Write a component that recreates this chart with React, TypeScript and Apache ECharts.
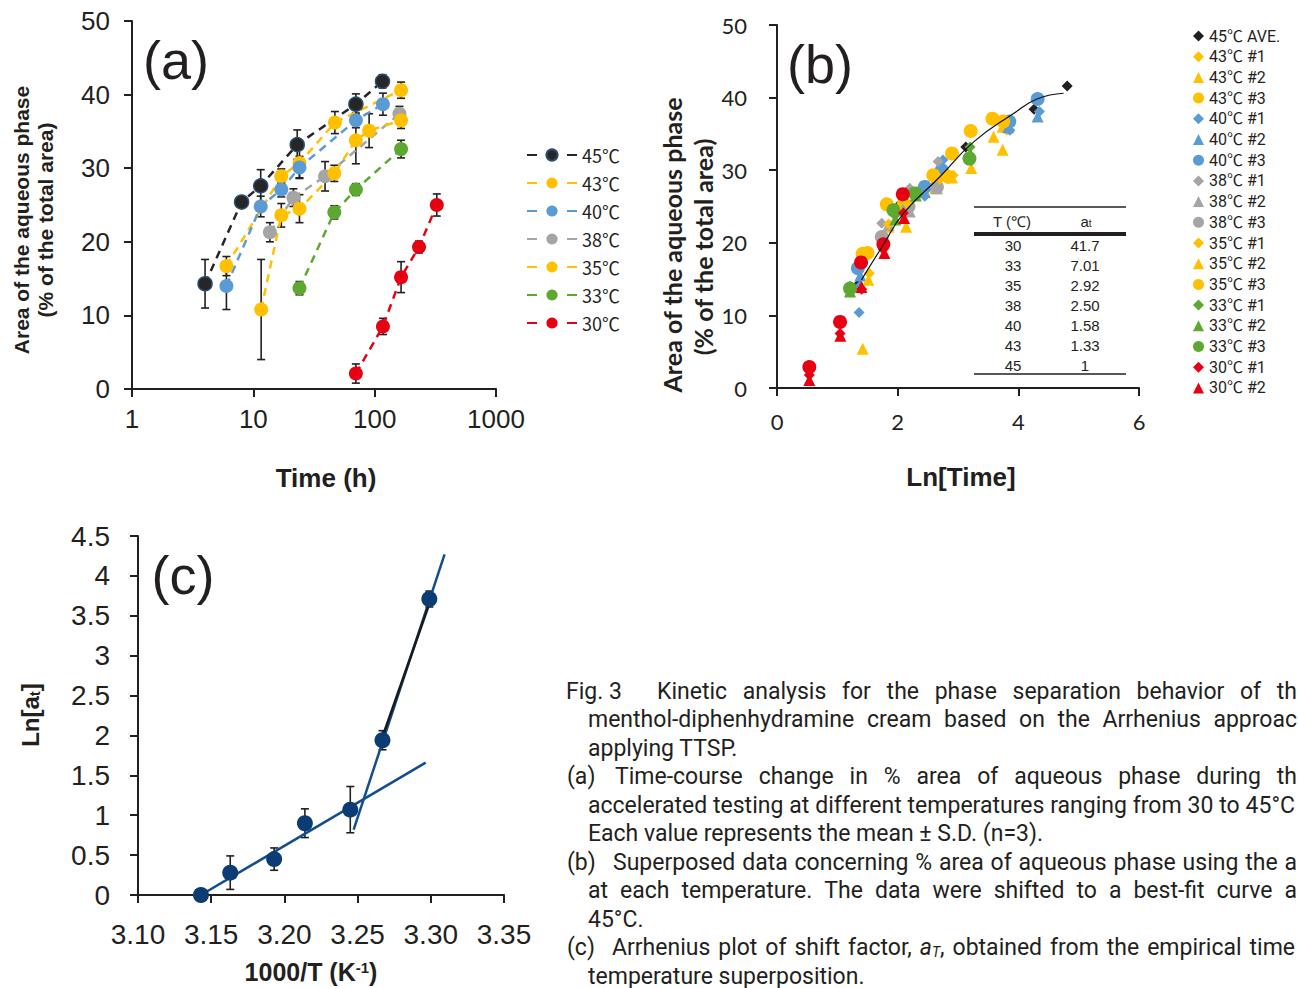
import React, { useEffect, useRef } from 'react';
import * as echarts from 'echarts';

const INK = '#231F20';

// ---------- Panel (a): time course (time in h, % area, S.D.) ----------
const namesA = ['45℃', '43℃', '40℃', '38℃', '35℃', '33℃', '30℃'];
const colorsA = ['#262626', '#FFC000', '#5B9BD5', '#A5A5A5', '#FFC000', '#5DA831', '#E60012'];
const timeA45 = [4, 8, 11.5, 23, 70, 116];
const areaA45 = [14.3, 25.4, 27.6, 33.2, 38.7, 41.8];
const sdA45 = [3.3, 0.5, 2.2, 2.0, 1.4, 0.9];
const timeA43 = [6, 17, 24, 47, 165];
const areaA43 = [16.7, 28.9, 30.7, 36.2, 40.6];
const sdA43 = [1.3, 1.0, 2.0, 1.5, 1.1];
const timeA40 = [6, 11.5, 17, 24, 70, 117];
const areaA40 = [14.0, 24.8, 27.1, 30.1, 36.5, 38.7];
const sdA40 = [3.2, 1.4, 1.0, 1.5, 1.0, 1.5];
const timeA38 = [13.7, 21.4, 39, 160];
const areaA38 = [21.3, 26.0, 28.9, 37.4];
const sdA38 = [1.3, 1.2, 2.0, 1.0];
const timeA35 = [11.6, 17, 24, 46.5, 70, 90, 165];
const areaA35 = [10.8, 23.6, 24.5, 29.3, 33.8, 35.1, 36.5];
const sdA35 = [6.8, 1.6, 1.9, 1.1, 3.2, 2.3, 1.1];
const timeA33 = [24, 46.5, 70, 165];
const areaA33 = [13.7, 24.0, 27.1, 32.6];
const sdA33 = [0.9, 0.9, 0.8, 1.2];
const timeA30 = [70, 117, 165, 232, 325];
const areaA30 = [2.1, 8.5, 15.2, 19.3, 25.0];
const sdA30 = [1.3, 1.1, 2.1, 0.8, 1.5];
const timesA = [timeA45, timeA43, timeA40, timeA38, timeA35, timeA33, timeA30];
const areasA = [areaA45, areaA43, areaA40, areaA38, areaA35, areaA33, areaA30];
const sdsA = [sdA45, sdA43, sdA40, sdA38, sdA35, sdA33, sdA30];

// ---------- Panel (b): superposed data (Ln[time], % area) ----------
const b45avgX = [1.35, 2.05, 2.43, 3.13, 4.26, 4.81];
const b45avgY = [14.3, 25.4, 27.6, 33.2, 38.4, 41.6];
const b43s1X = [1.53, 2.65, 2.92, 3.81];
const b43s1Y = [15.8, 28.5, 29.3, 35.5];
const b43s2X = [1.846, 2.62, 3.22, 3.59, 3.74];
const b43s2Y = [22.2, 27.5, 30.3, 34.6, 36.0];
const b43s3X = [1.5, 2.1, 2.9, 3.21, 3.57];
const b43s3Y = [18.6, 25.3, 32.3, 35.4, 37.1];
const b40s1X = [1.36, 1.37, 2.45, 2.75, 3.86, 4.35];
const b40s1Y = [10.4, 14.0, 26.4, 31.4, 35.5, 38.1];
const b40s2X = [1.38, 2.45, 3.83, 4.32];
const b40s2Y = [15.5, 27.0, 35.9, 37.4];
const b40s3X = [1.34, 2.45, 2.73, 3.85, 4.32];
const b40s3Y = [16.5, 27.7, 30.0, 36.7, 39.8];
const b38s1X = [1.736, 2.2, 2.67];
const b38s1Y = [22.7, 27.5, 31.2];
const b38s2X = [1.85, 2.2, 2.65];
const b38s2Y = [22.5, 24.3, 27.5];
const b38s3X = [1.736, 2.18, 2.65];
const b38s3Y = [20.8, 25.0, 27.7];
const b35s1X = [1.85, 2.15, 2.7];
const b35s1Y = [22.6, 25.5, 28.8];
const b35s2X = [1.42, 1.514, 2.14, 2.9, 3.74];
const b35s2Y = [5.4, 14.9, 22.2, 29.0, 32.8];
const b35s3X = [1.42, 1.82, 2.59, 2.84, 3.75];
const b35s3Y = [18.5, 25.3, 29.3, 29.1, 36.7];
const b33s1X = [1.21, 1.957, 2.317, 3.2];
const b33s1Y = [14.0, 23.8, 27.0, 33.2];
const b33s2X = [1.21, 1.96, 2.3, 3.2];
const b33s2Y = [13.3, 23.2, 26.5, 32.3];
const b33s3X = [1.21, 1.93, 2.29, 3.19];
const b33s3Y = [13.7, 24.5, 26.8, 31.6];
const b30s1X = [0.536, 1.045, 1.405, 1.76, 2.095];
const b30s1Y = [1.8, 7.5, 13.6, 19.1, 24.1];
const b30s2X = [0.536, 1.05, 1.4, 1.78, 2.106];
const b30s2Y = [1.1, 7.2, 13.9, 18.6, 23.4];
const b30s3X = [0.536, 1.045, 1.393, 1.763, 2.085];
const b30s3Y = [2.9, 9.1, 17.3, 19.8, 26.7];
const fitBX = [1.4, 1.76, 2.1, 2.7, 3.26, 3.92, 4.31, 4.75];
const fitBY = [14.9, 19.7, 24.1, 29.1, 33.9, 37.8, 39.8, 40.6];

const seriesB = [
  { name: '45℃ AVE.', color: '#231F20', symbol: 'diamond', x: b45avgX, y: b45avgY },
  { name: '43℃ #1', color: '#FFC000', symbol: 'diamond', x: b43s1X, y: b43s1Y },
  { name: '43℃ #2', color: '#FFC000', symbol: 'triangle', x: b43s2X, y: b43s2Y },
  { name: '43℃ #3', color: '#FFC000', symbol: 'circle', x: b43s3X, y: b43s3Y },
  { name: '40℃ #1', color: '#5B9BD5', symbol: 'diamond', x: b40s1X, y: b40s1Y },
  { name: '40℃ #2', color: '#5B9BD5', symbol: 'triangle', x: b40s2X, y: b40s2Y },
  { name: '40℃ #3', color: '#5B9BD5', symbol: 'circle', x: b40s3X, y: b40s3Y },
  { name: '38℃ #1', color: '#A5A5A5', symbol: 'diamond', x: b38s1X, y: b38s1Y },
  { name: '38℃ #2', color: '#A5A5A5', symbol: 'triangle', x: b38s2X, y: b38s2Y },
  { name: '38℃ #3', color: '#A5A5A5', symbol: 'circle', x: b38s3X, y: b38s3Y },
  { name: '35℃ #1', color: '#FFC000', symbol: 'diamond', x: b35s1X, y: b35s1Y },
  { name: '35℃ #2', color: '#FFC000', symbol: 'triangle', x: b35s2X, y: b35s2Y },
  { name: '35℃ #3', color: '#FFC000', symbol: 'circle', x: b35s3X, y: b35s3Y },
  { name: '33℃ #1', color: '#5DA831', symbol: 'diamond', x: b33s1X, y: b33s1Y },
  { name: '33℃ #2', color: '#5DA831', symbol: 'triangle', x: b33s2X, y: b33s2Y },
  { name: '33℃ #3', color: '#5DA831', symbol: 'circle', x: b33s3X, y: b33s3Y },
  { name: '30℃ #1', color: '#E60012', symbol: 'diamond', x: b30s1X, y: b30s1Y },
  { name: '30℃ #2', color: '#E60012', symbol: 'triangle', x: b30s2X, y: b30s2Y },
  { name: '30℃ #3', color: '#E60012', symbol: 'circle', x: b30s3X, y: b30s3Y },
];
const legendB = seriesB.slice(0, 18).map((s) => s.name);

// Shift-factor table in (b)
const tableT = ['30', '33', '35', '38', '40', '43', '45'];
const tableAt = ['41.7', '7.01', '2.92', '2.50', '1.58', '1.33', '1'];

// ---------- Panel (c): Arrhenius plot ----------
const invTC = [3.143, 3.163, 3.193, 3.214, 3.245, 3.267, 3.299];
const lnAtC = [0, 0.28, 0.45, 0.9, 1.07, 1.94, 3.71];
const sdC = [0, 0.21, 0.14, 0.18, 0.29, 0.12, 0.1];
const fitLowX = [3.143, 3.2965];
const fitLowY = [0.0, 1.66];
const fitHighX = [3.2473, 3.3094];
const fitHighY = [0.82, 4.27];
const fitHighBlackX = [3.2662, 3.3003];
const fitHighBlackY = [1.94, 3.72];

// ---------- Caption: [prefix, text, start x, justified right edge (0 = none)] ----------
const captionLines: [string, string, number, number][] = [
  ['Fig. 3', 'Kinetic analysis for the phase separation behavior of th', 657, 1297],
  ['', 'menthol-diphenhydramine cream based on the Arrhenius approac', 588, 1297],
  ['', 'applying TTSP.', 588, 0],
  ['(a)', 'Time-course change in % area of aqueous phase during th', 615, 1297],
  ['', 'accelerated testing at different temperatures ranging from 30 to 45°C', 588, 1295],
  ['', 'Each value represents the mean ± S.D. (n=3).', 588, 0],
  ['(b)', 'Superposed data concerning % area of aqueous phase using the a', 613, 1297],
  ['', 'at each temperature. The data were shifted to a best-fit curve a', 588, 1297],
  ['', '45°C.', 588, 0],
  ['(c)', 'Arrhenius plot of shift factor, {it|a}{itsub|T}, obtained from the empirical time', 612, 1295],
  ['', 'temperature superposition.', 588, 0],
];
const CAP_SIZE = 23;
const CAP_SUB = 14;

const ARIAL = 'Liberation Sans, Arial, sans-serif';
const CJK = 'Noto Sans CJK JP, sans-serif';
const LATO = 'Lato, sans-serif';
const ROBOTO = 'Roboto, Noto Sans CJK JP, sans-serif';

let measureCtx: CanvasRenderingContext2D | null = null;
function measure(s: string, size: number, italic: boolean) {
  if (!measureCtx) measureCtx = document.createElement('canvas').getContext('2d');
  if (!measureCtx) return s.length * size * 0.5;
  measureCtx.font = `${italic ? 'italic ' : ''}${size}px Roboto`;
  return measureCtx.measureText(s).width;
}
function richWidth(word: string) {
  let w = 0;
  const re = /\{(\w+)\|([^}]*)\}|([^{]+)/g;
  let m: RegExpExecArray | null;
  while ((m = re.exec(word))) {
    if (m[1]) w += measure(m[2], m[1] === 'itsub' ? CAP_SUB : CAP_SIZE, true);
    else w += measure(m[3], CAP_SIZE, false);
  }
  return w;
}

function errorBars(data: number[][], xi: number, yi: number, cap: number) {
  return {
    type: 'custom',
    xAxisIndex: xi,
    yAxisIndex: yi,
    z: 1,
    silent: true,
    data,
    encode: { x: 0, y: 1 },
    renderItem: (_p: any, api: any) => {
      const x = api.value(0);
      const y = api.value(1);
      const e = api.value(2);
      if (!e) return { type: 'group', children: [] };
      const a = api.coord([x, y + e]);
      const b = api.coord([x, y - e]);
      const st = { stroke: INK, lineWidth: 1.6 };
      return {
        type: 'group',
        children: [
          { type: 'line', shape: { x1: a[0], y1: a[1], x2: b[0], y2: b[1] }, style: st },
          { type: 'line', shape: { x1: a[0] - cap, y1: a[1], x2: a[0] + cap, y2: a[1] }, style: st },
          { type: 'line', shape: { x1: b[0] - cap, y1: b[1], x2: b[0] + cap, y2: b[1] }, style: st },
        ],
      };
    },
  };
}

function txt(x: number, y: number, text: string, fontSize: number, opts: any = {}) {
  const { rotation, ...style } = opts;
  return {
    type: 'text',
    x,
    y,
    rotation: rotation || 0,
    silent: true,
    z: 10,
    style: {
      text,
      fontSize,
      fill: INK,
      fontFamily: ARIAL,
      align: 'center',
      verticalAlign: 'middle',
      ...style,
    },
  };
}

function hline(x1: number, x2: number, y: number, w: number) {
  return { type: 'line', silent: true, z: 10, shape: { x1, y1: y, x2, y2: y }, style: { stroke: INK, lineWidth: w } };
}

function axisCommon(fontSize: number, fontFamily: string, margin: number) {
  return {
    axisLine: { show: true, onZero: false, lineStyle: { color: INK, width: 2 } },
    axisTick: { show: true, length: 8, lineStyle: { color: INK, width: 2 } },
    axisLabel: { color: INK, fontSize, fontFamily, margin },
    splitLine: { show: false },
    minorTick: { show: false },
    minorSplitLine: { show: false },
  };
}

export default function App() {
  const ref = useRef<HTMLDivElement>(null);

  useEffect(() => {
    document.body.style.margin = '0';
    const chart = echarts.init(ref.current as HTMLDivElement, undefined, { renderer: 'svg' });

    const series: any[] = [];

    // (a) lines + points
    namesA.forEach((name, i) => {
      series.push({
        type: 'line',
        name,
        xAxisIndex: 0,
        yAxisIndex: 0,
        data: timesA[i].map((t, j) => [t, areasA[i][j]]),
        symbol: 'circle',
        symbolSize: 14,
        showSymbol: true,
        z: 3,
        lineStyle: { color: colorsA[i], width: 2.5, type: [8, 6] },
        itemStyle: {
          color: colorsA[i],
          opacity: 1,
          borderColor: i === 0 ? '#2E4B6E' : colorsA[i],
          borderWidth: i === 0 ? 1.5 : 0,
        },
      });
    });
    const errA: number[][] = [];
    timesA.forEach((ts, i) => ts.forEach((t, j) => errA.push([t, areasA[i][j], sdsA[i][j]])));
    series.push(errorBars(errA, 0, 0, 4));

    // (b) scatter
    seriesB.forEach((s) => {
      series.push({
        type: 'scatter',
        name: s.name,
        xAxisIndex: 1,
        yAxisIndex: 1,
        data: s.x.map((v, j) => [v, s.y[j]]),
        symbol: s.symbol,
        symbolSize: s.symbol === 'circle' ? 14 : s.symbol === 'triangle' ? 12 : 11,
        itemStyle: { color: s.color, opacity: 1 },
        z: 3,
      });
    });
    series.push({
      type: 'line',
      name: 'fit',
      xAxisIndex: 1,
      yAxisIndex: 1,
      data: fitBX.map((v, j) => [v, fitBY[j]]),
      smooth: true,
      symbol: 'none',
      lineStyle: { color: '#111111', width: 1.2 },
      z: 5,
      silent: true,
    });

    // (c)
    const lineC = (name: string, xs: number[], ys: number[], color: string) => ({
      type: 'line',
      name,
      xAxisIndex: 2,
      yAxisIndex: 2,
      data: xs.map((v, j) => [v, ys[j]]),
      symbol: 'none',
      lineStyle: { color, width: 2.5 },
      z: 2,
      silent: true,
    });
    series.push(lineC('lowFit', fitLowX, fitLowY, '#124E8C'));
    series.push(lineC('highFit', fitHighX, fitHighY, '#124E8C'));
    series.push(lineC('highFitBlack', fitHighBlackX, fitHighBlackY, '#1A1A1A'));
    series.push(errorBars(invTC.map((v, j) => [v, lnAtC[j], sdC[j]]), 2, 2, 4));
    series.push({
      type: 'scatter',
      name: 'lnAt',
      xAxisIndex: 2,
      yAxisIndex: 2,
      data: invTC.map((v, j) => [v, lnAtC[j]]),
      symbol: 'circle',
      symbolSize: 16,
      itemStyle: { color: '#0B3C73', opacity: 1 },
      z: 4,
    });

    const graphic: any[] = [];
    // panel labels
    graphic.push(txt(176, 60, '(a)', 54));
    graphic.push(txt(820, 64, '(b)', 54));
    graphic.push(txt(183, 575, '(c)', 54));
    // axis titles (a)
    graphic.push(txt(326, 478, 'Time (h)', 26, { fontWeight: 'bold' }));
    graphic.push(txt(21, 220, 'Area of the aqueous phase', 21, { fontWeight: 'bold', rotation: Math.PI / 2 }));
    graphic.push(txt(45, 220, '(% of the total area)', 21, { fontWeight: 'bold', rotation: Math.PI / 2 }));
    // axis titles (b)
    graphic.push(txt(961, 477, 'Ln[Time]', 26, { fontWeight: 'bold' }));
    graphic.push(txt(672, 245, 'Area of the aqueous phase', 25, { fontWeight: 'bold', fontFamily: LATO, rotation: Math.PI / 2 }));
    graphic.push(txt(703, 247, '(% of the total area)', 25, { fontWeight: 'bold', fontFamily: LATO, rotation: Math.PI / 2 }));
    // axis titles (c)
    graphic.push(
      txt(311, 972, '1000/T (K{sup|-1})', 25, {
        fontWeight: 'bold',
        rich: { sup: { fontSize: 15, fontWeight: 'bold', fontFamily: ARIAL, verticalAlign: 'top', lineHeight: 12 } },
      })
    );
    graphic.push(
      txt(30, 715, 'Ln[a{sub|t}]', 24, {
        fontWeight: 'bold',
        rotation: Math.PI / 2,
        rich: { sub: { fontSize: 15, fontWeight: 'bold', fontFamily: ARIAL, verticalAlign: 'bottom', lineHeight: 12 } },
      })
    );
    // table in (b)
    graphic.push(hline(974, 1126, 207, 1.5));
    graphic.push(hline(974, 1126, 234, 4));
    graphic.push(hline(974, 1126, 374, 1.5));
    graphic.push(txt(1012, 221, 'T (℃)', 15));
    graphic.push(
      txt(1086, 221, 'a{sub|t}', 15, {
        rich: { sub: { fontSize: 10, fontFamily: ARIAL, verticalAlign: 'bottom', lineHeight: 8 } },
      })
    );
    tableT.forEach((t, i) => {
      graphic.push(txt(1013, 245 + i * 20, t, 15));
      graphic.push(txt(1085, 245 + i * 20, tableAt[i], 15));
    });
    // caption
    const capRich = {
      it: { fontSize: CAP_SIZE, fontStyle: 'italic', fontFamily: ROBOTO },
      itsub: { fontSize: CAP_SUB, fontStyle: 'italic', fontFamily: ROBOTO, verticalAlign: 'bottom', lineHeight: 14 },
    };
    captionLines.forEach(([prefix, line, x0, xEnd], i) => {
      const y = 691 + i * 28.5;
      if (prefix) graphic.push(txt(prefix === 'Fig. 3' ? 566 : 567, y, prefix, CAP_SIZE, { align: 'left', fontFamily: ROBOTO }));
      if (!xEnd) {
        graphic.push(txt(x0, y, line, CAP_SIZE, { align: 'left', fontFamily: ROBOTO, rich: capRich }));
        return;
      }
      const words = line.split(' ');
      const widths = words.map(richWidth);
      const total = widths.reduce((s, w) => s + w, 0);
      const gap = Math.max(4, (xEnd - x0 - total) / (words.length - 1));
      let x = x0;
      words.forEach((w, k) => {
        graphic.push(txt(x, y, w, CAP_SIZE, { align: 'left', fontFamily: ROBOTO, rich: capRich }));
        x += widths[k] + gap;
      });
    });

    const option: any = {
      animation: false,
      textStyle: { fontFamily: ARIAL, color: INK },
      grid: [
        { left: 132, top: 21, width: 364, height: 368 },
        { left: 777, top: 25, width: 362, height: 363 },
        { left: 138, top: 536, width: 366, height: 359 },
      ],
      xAxis: [
        {
          gridIndex: 0,
          type: 'log',
          logBase: 10,
          min: 1,
          max: 1000,
          ...axisCommon(26, ARIAL, 17),
          axisLabel: { color: INK, fontSize: 26, fontFamily: ARIAL, margin: 17, formatter: (v: number) => String(Math.round(v)) },
        },
        { gridIndex: 1, type: 'value', min: 0, max: 6, interval: 2, ...axisCommon(22, LATO, 22) },
        {
          gridIndex: 2,
          type: 'value',
          min: 3.1,
          max: 3.35,
          interval: 0.05,
          ...axisCommon(28, ARIAL, 25),
          axisLabel: { color: INK, fontSize: 28, fontFamily: ARIAL, margin: 25, formatter: (v: number) => v.toFixed(2) },
        },
      ],
      yAxis: [
        { gridIndex: 0, type: 'value', min: 0, max: 50, interval: 10, ...axisCommon(26, ARIAL, 22) },
        { gridIndex: 1, type: 'value', min: 0, max: 50, interval: 10, ...axisCommon(22, LATO, 30) },
        { gridIndex: 2, type: 'value', min: 0, max: 4.5, interval: 0.5, ...axisCommon(28, ARIAL, 28) },
      ],
      legend: [
        {
          data: namesA,
          orient: 'vertical',
          left: 521,
          top: 141,
          itemWidth: 50,
          itemHeight: 14,
          itemGap: 10,
          selectedMode: false,
          lineStyle: { type: [10, 10] },
          textStyle: { color: INK, fontSize: 18, fontFamily: CJK, lineHeight: 18 },
        },
        {
          data: legendB,
          orient: 'vertical',
          left: 1188,
          top: 23,
          itemWidth: 11,
          itemHeight: 11,
          itemGap: 4.7,
          itemStyle: { borderWidth: 0 },
          selectedMode: false,
          textStyle: { color: INK, fontSize: 16, fontFamily: ROBOTO, lineHeight: 16 },
        },
      ],
      series,
      graphic,
    };
    chart.setOption(option);
    return () => chart.dispose();
  }, []);

  return <div ref={ref} style={{ width: 1298, height: 988 }} />;
}
